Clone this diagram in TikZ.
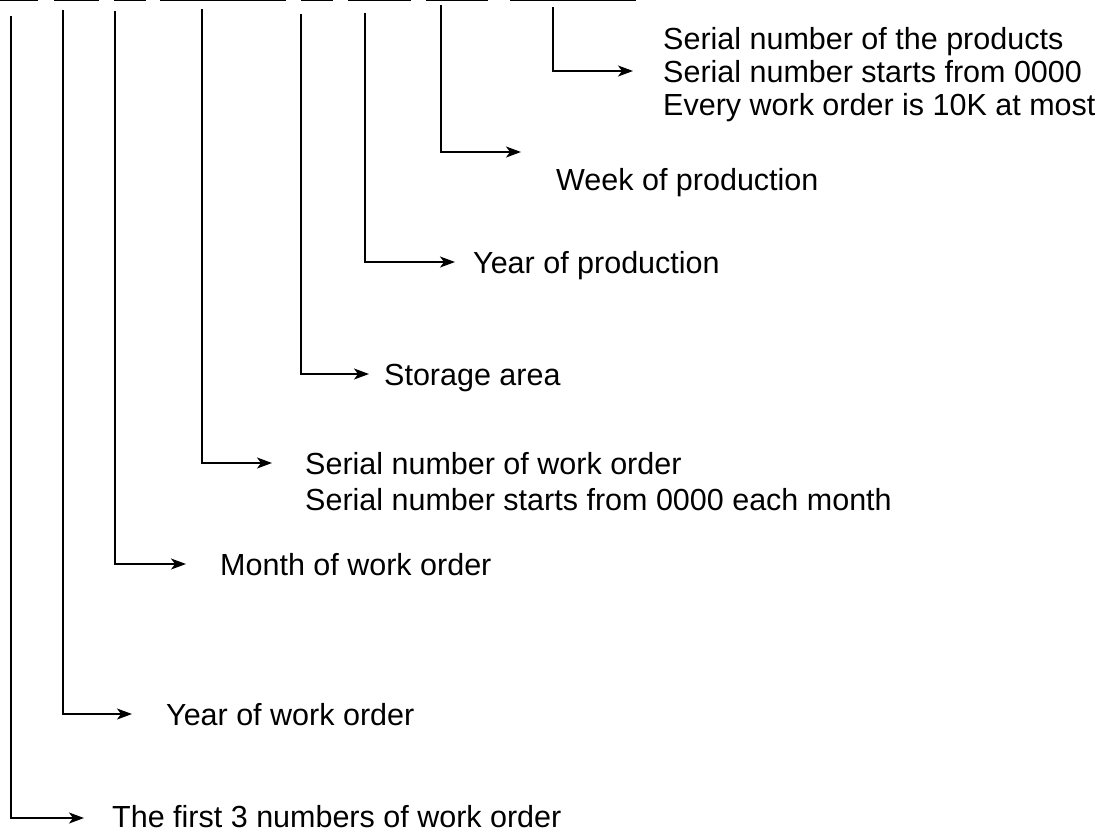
\documentclass[tikz,border=0pt]{standalone}
\usepackage{fontspec}
\setmainfont{Liberation Sans}
\usetikzlibrary{arrows.meta}
\begin{document}
\begin{tikzpicture}[x=1pt,y=-1pt,
  conn/.style={line width=1.5pt,-{Stealth[length=15pt,width=11pt,inset=4pt]}},
  bar/.style={line width=2.5pt},
  lbl/.style={anchor=base west,inner sep=0pt,font=\fontsize{30.5}{33}\selectfont,align=left}]
\useasboundingbox (0,0) rectangle (1110,835);
% underlines of the code fields
\foreach \a/\b [count=\i] in {0/38,54/99,114/146,160/286,301/333,348/411,426/488,510/636}
  \draw[bar] (\a,0) coordinate (u\i L) -- (\b,0) coordinate (u\i R);
% labels (anchor = baseline of the last line)
\node[lbl] (la) at (112,827) {The first 3 numbers of work order};
\node[lbl] (lb) at (166,725) {Year of work order};
\node[lbl] (lc) at (220,575) {Month of work order};
\node[lbl,font=\fontsize{30.5}{36}\selectfont] (ld) at (305,510) {Serial number of work order\\Serial number starts from 0000 each month};
\node[lbl] (le) at (384,385) {Storage area};
\node[lbl] (lf) at (473,273) {Year of production};
\node[lbl] (lg) at (556,190) {Week of production};
\node[lbl] (lh) at (663,115) {Serial number of the products\\Serial number starts from 0000\\Every work order is 10K at most};
% connector start points and arrow tips
\coordinate (ta) at (11,16);  \coordinate (pa) at (84,818);
\coordinate (tb) at (63,10);  \coordinate (pb) at (132,714);
\coordinate (tc) at (115,11); \coordinate (pc) at (186,564);
\coordinate (td) at (202,9);  \coordinate (pd) at (272,463);
\coordinate (te) at (301,14); \coordinate (pe) at (369,374);
\coordinate (tf) at (365,13); \coordinate (pf) at (455,262);
\coordinate (tg) at (441,5);  \coordinate (pg) at (521,152);
\coordinate (th) at (553,7);  \coordinate (ph) at (633,71);
\foreach \k in {a,b,c,d,e,f,g,h}
  \draw[conn] (t\k) |- (p\k);
\end{tikzpicture}
\end{document}
